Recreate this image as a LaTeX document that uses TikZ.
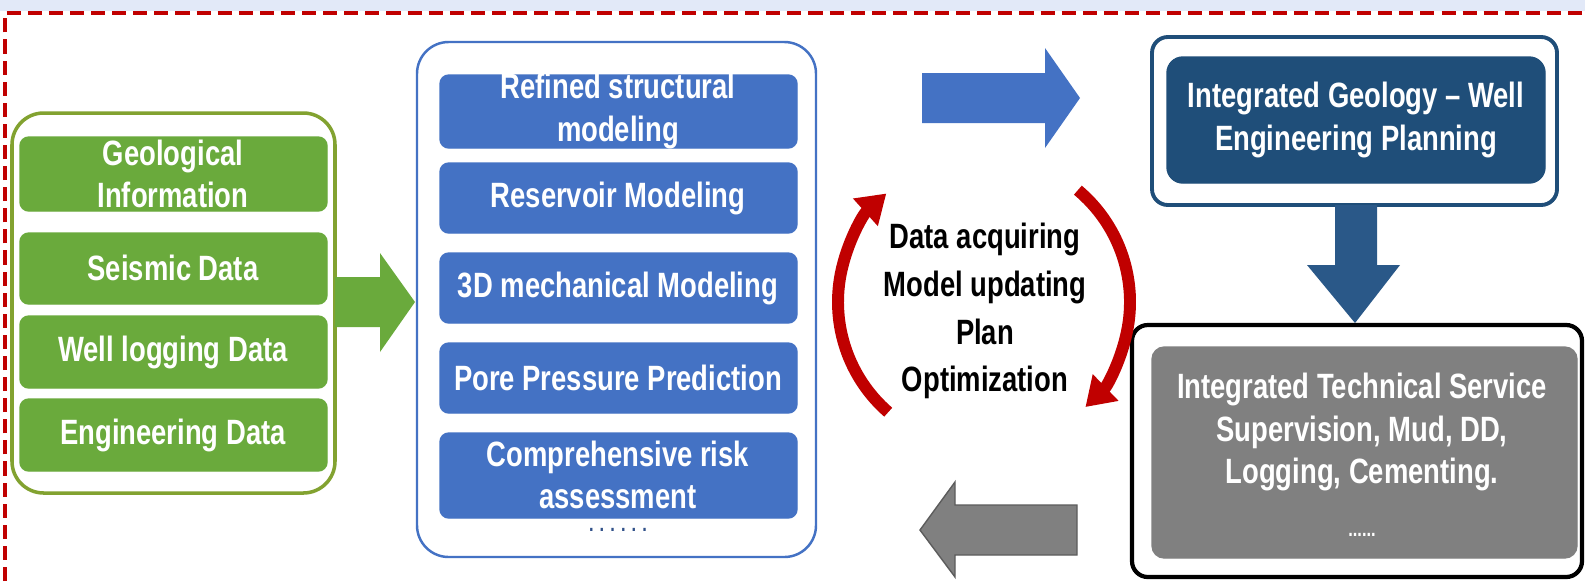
\documentclass[tikz,border=0pt]{standalone}
\usepackage{fontspec}
\usepackage{tikz}
\usetikzlibrary{arrows.meta}
\newfontfamily\diagfont[FakeStretch=0.78]{Liberation Sans}
\definecolor{leafgreen}{RGB}{106, 170, 60}
\definecolor{olivegreen}{RGB}{130, 162, 48}
\definecolor{royalblue}{RGB}{68, 114, 196}
\definecolor{navyblue}{RGB}{31, 78, 121}
\definecolor{slateblue}{RGB}{42, 88, 136}
\definecolor{ashgray}{RGB}{128, 128, 128}
\definecolor{smokegray}{RGB}{92, 92, 92}
\definecolor{crimson}{RGB}{192, 0, 0}
\definecolor{skyband}{RGB}{226, 233, 248}
\tikzset{
  boxtext/.style={text=white, font=\diagfont\bfseries\fontsize{10}{12}\selectfont, align=center, inner sep=0pt},
  looptext/.style={text=black, font=\diagfont\bfseries\fontsize{10}{13.6}\selectfont, align=center, inner sep=0pt},
  greenbox/.style={color=leafgreen, fill=leafgreen, rounded corners=2.5pt},
  bluebox/.style={color=royalblue, fill=royalblue, rounded corners=2.5pt},
  looparrow/.style={color=crimson, line width=3.4pt, -{Triangle[width=10pt, length=8pt]}}
}

\begin{document}
\begin{tikzpicture}[x=0.01cm, y=-0.01cm]
  \useasboundingbox (0,0) rectangle (1585,581);
  \fill[white]   (0,0) rectangle (1585,581);
  \fill[skyband] (0,0) rectangle (1585,11);
  \draw[crimson, line width=1.1pt, dash pattern=on 4pt off 2pt] (5,581) -- (5,13) -- (1585,13);

  % input data
  \draw[color=olivegreen, line width=1pt, rounded corners=9pt] (12,113) rectangle (335,493);
  \filldraw[greenbox] (20,137) rectangle (327,211);
  \filldraw[greenbox] (20,233) rectangle (327,304);
  \filldraw[greenbox] (20,316) rectangle (327,388);
  \filldraw[greenbox] (20,399) rectangle (327,471);
  \node[boxtext] (geo)  at (173,174) {Geological\\Information};
  \node[boxtext] (seis) at (173,268) {Seismic Data};
  \node[boxtext] (well) at (173,352) {Well logging Data};
  \node[boxtext] (eng)  at (173,435) {Engineering Data};

  % green arrow
  \fill[leafgreen] (335,277) -- (380,277) -- (380,253) -- (415,302) -- (380,352) -- (380,327) -- (335,327) -- cycle;

  % modeling
  \draw[color=royalblue, line width=0.7pt, rounded corners=9pt] (417,42) rectangle (816,557);
  \filldraw[bluebox] (440,75)  rectangle (797,148);
  \filldraw[bluebox] (440,163) rectangle (797,233);
  \filldraw[bluebox] (440,253) rectangle (797,323);
  \filldraw[bluebox] (440,343) rectangle (797,413);
  \filldraw[bluebox] (440,433) rectangle (797,518);
  \node[boxtext] (struct) at (618,111) {Refined structural\\modeling};
  \node[boxtext] (resv)   at (618,198) {Reservoir Modeling};
  \node[boxtext] (mech)   at (618,288) {3D mechanical Modeling};
  \node[boxtext] (pore)   at (618,378) {Pore Pressure Prediction};
  \node[boxtext] (risk)   at (618,475) {Comprehensive risk\\assessment};
  \node[boxtext, text=royalblue!70!black, font=\diagfont\bfseries\fontsize{6}{7}\selectfont] (mdots) at (618,530) {. . . . . .};

  % blue arrow
  \fill[royalblue] (922,73) -- (1045,73) -- (1045,48) -- (1080,98) -- (1045,148) -- (1045,123) -- (922,123) -- cycle;

  % planning
  \draw[color=navyblue, line width=1.1pt, rounded corners=4.5pt] (1152,37) rectangle (1557,205);
  \filldraw[color=navyblue, fill=navyblue, rounded corners=4.5pt] (1167,57) rectangle (1545,183);
  \node[boxtext] (plan) at (1356,120) {Integrated Geology – Well\\Engineering Planning};

  % down arrow
  \fill[slateblue] (1335,205) -- (1377,205) -- (1377,265) -- (1400,265) -- (1355,323) -- (1307,265) -- (1335,265) -- cycle;

  % service
  \draw[color=black, line width=1.2pt, rounded corners=4.5pt] (1132,325) rectangle (1582,577);
  \filldraw[color=ashgray, fill=ashgray, rounded corners=3.5pt] (1152,347) rectangle (1577,558);
  \node[boxtext] (serv) at (1362,432) {Integrated Technical Service\\Supervision, Mud, DD,\\Logging, Cementing.};
  \node[boxtext, font=\diagfont\bfseries\fontsize{6}{7}\selectfont] (sdots) at (1362,535) {......};

  % gray arrow
  \filldraw[color=smokegray, fill=ashgray, line width=0.4pt] (1077,505) -- (955,505) -- (955,482) -- (920,530) -- (955,577) -- (955,555) -- (1077,555) -- cycle;

  % update loop
  \coordinate (loopc) at (984,302);
  \node[looptext] (loop) at (985,311) {Data acquiring\\Model updating\\Plan\\Optimization};
  \draw[looparrow] (loopc) ++(131:146) arc[start angle=131, end angle=228, radius=146];
  \draw[looparrow] (loopc) ++(-50:146) arc[start angle=-50, end angle=46, radius=146];
\end{tikzpicture}
\end{document}
